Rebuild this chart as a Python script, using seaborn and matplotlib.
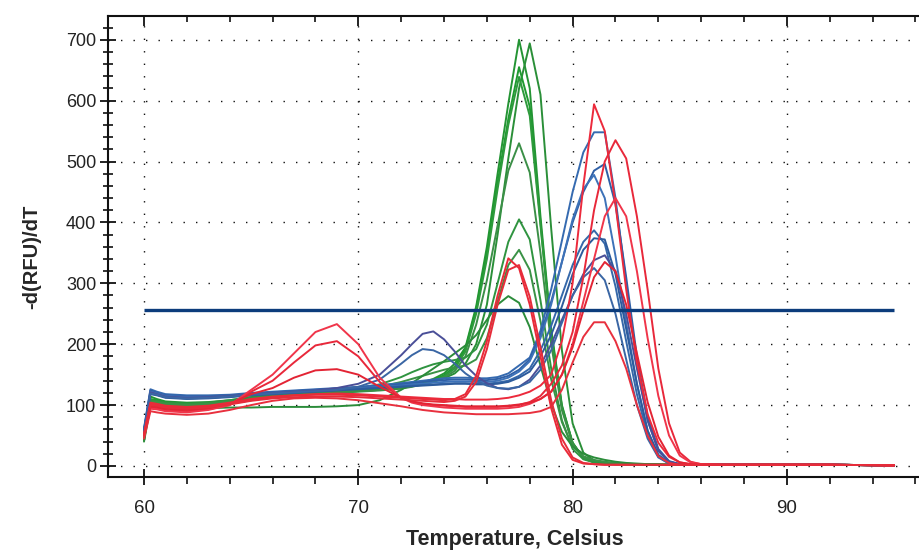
import matplotlib
matplotlib.use("Agg")
import matplotlib.pyplot as plt
from matplotlib.ticker import MultipleLocator
import pandas as pd
import seaborn as sns

# Melt-curve derivative data: shared temperature grid (Celsius)
temps = [60.0, 60.3, 60.6, 61,
         62, 63, 64, 65, 66, 67, 68, 69, 70, 71, 72,
         72.5, 73, 73.5, 74, 74.5, 75, 75.5, 76, 76.5, 77, 77.5, 78, 78.5, 79,
         79.5, 80, 80.5, 81, 81.5, 82, 82.5, 83, 83.5, 84, 84.5, 85, 85.5, 86,
         87, 88, 90, 92, 95]

# Green wells (product melting near 77.5 C)
g1 = [48, 114, 110, 106,
      104, 105, 108, 113, 117, 119, 121, 123, 125, 127, 130,
      133, 137, 143, 152, 168, 195, 262, 360, 480, 595, 700, 620, 410, 225,
      100, 38, 12, 6, 4, 3, 3, 3, 3, 2, 2, 2, 2, 2,
      2, 2, 2, 2, 1]
g2 = [44, 108, 106, 103,
      101, 102, 105, 110, 114, 117, 119, 121, 123, 125, 128,
      131, 134, 138, 144, 152, 168, 200, 265, 380, 505, 620, 694, 610, 390,
      190, 70, 22, 9, 5, 4, 3, 3, 3, 2, 2, 2, 2, 2,
      2, 2, 2, 2, 1]
g3 = [46, 110, 108, 104,
      102, 103, 106, 111, 115, 118, 120, 122, 124, 126, 129,
      132, 136, 141, 149, 163, 192, 258, 350, 465, 570, 655, 590, 400, 220,
      98, 38, 13, 6, 4, 3, 3, 3, 2, 2, 2, 2, 2, 2,
      2, 2, 2, 2, 1]
g4 = [42, 106, 105, 101,
      99, 100, 104, 109, 114, 117, 119, 121, 123, 125, 128,
      131, 135, 140, 147, 160, 188, 250, 340, 455, 560, 639, 575, 395, 215,
      95, 38, 14, 7, 4, 3, 3, 3, 2, 2, 2, 2, 2, 2,
      2, 2, 2, 2, 1]
g5 = [44, 104, 103, 100,
      98, 99, 103, 108, 113, 116, 118, 120, 122, 124, 127,
      130, 134, 139, 145, 156, 180, 232, 305, 395, 485, 530, 482, 350, 200,
      92, 36, 15, 8, 5, 4, 3, 3, 3, 2, 2, 2, 2, 2,
      2, 2, 2, 2, 1]
g6 = [46, 108, 107, 104,
      102, 104, 108, 113, 117, 120, 122, 125, 128, 134, 146,
      154, 161, 167, 171, 174, 178, 192, 232, 300, 368, 405, 372, 272, 160,
      75, 28, 11, 6, 4, 3, 3, 3, 2, 2, 2, 2, 2, 2,
      2, 2, 2, 2, 1]
g7 = [45, 106, 105, 102,
      100, 102, 106, 111, 115, 118, 120, 122, 125, 130, 138,
      143, 148, 153, 158, 162, 165, 175, 210, 270, 330, 355, 322, 238, 142,
      72, 32, 16, 10, 7, 5, 4, 3, 3, 2, 2, 2, 2, 2,
      2, 2, 2, 2, 1]
g8 = [40, 98, 98, 96,
      95, 95, 96, 96, 97, 97, 97, 98, 100, 108, 125,
      136, 148, 160, 172, 185, 198, 215, 240, 265, 279, 268, 228, 165, 102,
      56, 32, 20, 14, 10, 7, 5, 4, 3, 3, 2, 2, 2, 2,
      2, 2, 2, 2, 1]

# Blue wells (product melting near 81 C)
b1 = [62, 126, 122, 118,
      116, 116, 117, 120, 122, 124, 126, 128, 130, 133, 136,
      138, 140, 142, 144, 145, 145, 144, 144, 146, 152, 165, 178, 222, 290,
      370, 450, 515, 548, 548, 440, 300, 170, 75, 25, 7, 3, 2, 2,
      2, 2, 2, 2, 1]
b2 = [60, 124, 120, 116,
      114, 114, 116, 118, 121, 123, 125, 127, 129, 131, 134,
      136, 138, 140, 141, 142, 142, 141, 141, 143, 148, 158, 175, 215, 270,
      335, 400, 450, 485, 496, 430, 310, 180, 82, 28, 8, 3, 2, 2,
      2, 2, 2, 2, 1]
b3 = [58, 122, 119, 115,
      113, 113, 115, 118, 120, 122, 124, 126, 128, 130, 132,
      134, 135, 137, 138, 139, 139, 138, 138, 140, 145, 155, 172, 210, 265,
      335, 405, 455, 478, 440, 345, 235, 135, 58, 18, 5, 2, 2, 2,
      2, 2, 2, 2, 1]
b4 = [56, 120, 117, 113,
      111, 112, 114, 117, 119, 121, 123, 125, 127, 129, 131,
      132, 133, 134, 135, 136, 136, 135, 135, 137, 140, 148, 160, 190, 230,
      280, 330, 368, 387, 365, 295, 205, 118, 50, 15, 4, 2, 2, 2,
      2, 2, 2, 2, 1]
b5 = [55, 118, 116, 112,
      110, 111, 113, 116, 118, 120, 122, 124, 126, 128, 130,
      131, 132, 133, 134, 135, 135, 134, 134, 135, 138, 145, 155, 180, 215,
      262, 315, 355, 374, 372, 315, 225, 135, 58, 18, 5, 2, 2, 2,
      2, 2, 2, 2, 1]
b6 = [57, 121, 118, 114,
      112, 113, 115, 118, 120, 122, 124, 128, 135, 150, 182,
      200, 217, 221, 208, 188, 165, 148, 136, 128, 126, 130, 142, 165, 200,
      240, 280, 315, 338, 346, 320, 250, 160, 75, 25, 7, 3, 2, 2,
      2, 2, 2, 2, 1]
b7 = [56, 119, 117, 113,
      111, 112, 114, 117, 119, 121, 123, 125, 130, 142, 168,
      182, 192, 190, 182, 168, 152, 140, 132, 128, 127, 130, 138, 158, 190,
      235, 280, 310, 325, 305, 250, 175, 100, 45, 14, 4, 2, 2, 2,
      2, 2, 2, 2, 1]

# Red wells (mixed products, early bumps near 69 C)
r1 = [52, 102, 100, 97,
      95, 97, 102, 108, 113, 116, 118, 119, 118, 116, 114,
      113, 112, 111, 110, 110, 109, 109, 109, 110, 112, 116, 122, 132, 150,
      205, 300, 460, 594, 550, 430, 290, 170, 85, 38, 15, 6, 3, 2,
      2, 2, 2, 2, 1]
r2 = [50, 96, 95, 92,
      90, 93, 100, 122, 140, 170, 198, 205, 180, 138, 112,
      106, 102, 100, 99, 98, 97, 97, 97, 97, 98, 100, 105, 115, 135,
      165, 220, 310, 420, 500, 535, 505, 410, 290, 160, 70, 22, 7, 3,
      2, 2, 2, 2, 1]
r3 = [48, 94, 93, 90,
      88, 92, 100, 125, 150, 185, 220, 233, 200, 145, 112,
      104, 100, 98, 96, 95, 94, 94, 94, 94, 95, 97, 102, 110, 122,
      150, 200, 270, 340, 410, 440, 410, 320, 210, 115, 50, 17, 6, 3,
      2, 2, 2, 2, 1]
r4 = [50, 98, 97, 94,
      92, 95, 102, 118, 128, 145, 157, 159, 150, 130, 112,
      106, 103, 101, 100, 99, 98, 98, 98, 98, 99, 101, 104, 110, 122,
      150, 195, 255, 310, 335, 320, 265, 185, 105, 48, 17, 6, 3, 2,
      2, 2, 2, 2, 1]
r5 = [45, 90, 88, 86,
      84, 86, 92, 100, 107, 111, 112, 111, 108, 103, 98,
      95, 92, 90, 88, 87, 86, 85, 85, 85, 85, 86, 87, 90, 97,
      125, 170, 212, 236, 236, 205, 160, 100, 50, 16, 5, 2, 2, 2,
      2, 2, 2, 2, 1]
r6 = [52, 104, 102, 99,
      97, 99, 104, 110, 114, 116, 117, 117, 116, 114, 112,
      111, 110, 109, 108, 110, 118, 148, 205, 280, 341, 325, 265, 180, 95,
      35, 10, 4, 3, 2, 2, 2, 2, 2, 2, 2, 2, 2, 2,
      2, 2, 2, 2, 1]
r7 = [50, 100, 99, 96,
      94, 96, 101, 107, 111, 113, 114, 114, 113, 111, 109,
      108, 107, 106, 105, 107, 114, 138, 192, 265, 322, 330, 278, 195, 108,
      45, 14, 5, 3, 2, 2, 2, 2, 2, 2, 2, 2, 2, 2,
      2, 2, 2, 2, 1]

# Threshold line
threshold_x = [60, 95]
threshold_y = [256, 256]

# Tick labels
x_ticks = [60, 70, 80, 90]
y_ticks = [0, 100, 200, 300, 400, 500, 600, 700]

curves = {
    "g1": (g1, "#249434"), "g2": (g2, "#2a8f38"), "g3": (g3, "#1f9a30"),
    "g4": (g4, "#2e9a3c"), "g5": (g5, "#3b8f47"), "g6": (g6, "#2f9440"),
    "g7": (g7, "#3a9246"), "g8": (g8, "#2b8c3a"),
    "b1": (b1, "#356ab0"), "b2": (b2, "#2f5fa6"), "b3": (b3, "#3d72b8"),
    "b4": (b4, "#3568aa"), "b5": (b5, "#2c5b9c"), "b6": (b6, "#4a4f98"),
    "b7": (b7, "#3a66a4"),
    "r1": (r1, "#ec2a3c"), "r2": (r2, "#e8283a"), "r3": (r3, "#f0354a"),
    "r4": (r4, "#e32434"), "r5": (r5, "#e8303e"), "r6": (r6, "#ea2a38"),
    "r7": (r7, "#e62c3a"),
}

rows = []
for name, (vals, _) in curves.items():
    for t, v in zip(temps, vals):
        rows.append({"temp": t, "value": v, "well": name})
df = pd.DataFrame(rows)
palette = {name: c for name, (_, c) in curves.items()}

sns.set_style("white")
plt.rcParams["font.family"] = ["Liberation Sans", "DejaVu Sans"]
title_family = ["Liberation Sans Narrow", "Liberation Sans", "DejaVu Sans"]

fig = plt.figure(figsize=(9.2, 5.5), dpi=100)
ax = fig.add_axes([108 / 920, 1 - 477 / 550, 1 - 108 / 920, (477 - 16) / 550])

sns.lineplot(data=df, x="temp", y="value", hue="well", palette=palette,
             hue_order=list(curves.keys()), estimator=None, sort=False,
             legend=False, linewidth=1.4, ax=ax, zorder=3)

ax.plot(threshold_x, threshold_y, color="#0c3c7c", linewidth=2.4, zorder=4,
        solid_capstyle="butt")

ax.set_xlim(58.32, 96.21)
ax.set_ylim(-18.1, 739)

ax.set_xticks(x_ticks)
ax.set_yticks(y_ticks)
ax.xaxis.set_minor_locator(MultipleLocator(2))
ax.yaxis.set_minor_locator(MultipleLocator(20))

ax.grid(True, which="major", color="#111111", linestyle=(0, (1, 8)),
        linewidth=1.0)
ax.set_axisbelow(True)

for side in ("left", "bottom", "top"):
    ax.spines[side].set_visible(True)
    ax.spines[side].set_color("#111111")
    ax.spines[side].set_linewidth(1.5)
ax.spines["right"].set_visible(False)

ax.tick_params(axis="x", which="major", direction="inout", length=11,
               width=1.3, bottom=True, top=False, labelsize=13.5, pad=11,
               colors="#111111", labelcolor="#222222")
ax.tick_params(axis="x", which="minor", direction="out", length=5,
               width=1.2, bottom=True, top=False, colors="#111111")
ax.tick_params(axis="y", which="major", direction="inout", length=11,
               width=1.3, left=True, labelsize=13, pad=3,
               colors="#111111", labelcolor="#222222")
ax.tick_params(axis="y", which="minor", direction="inout", length=7,
               width=1.2, left=True, colors="#111111")

top = ax.secondary_xaxis("top")
top.set_xticks(x_ticks)
top.xaxis.set_minor_locator(MultipleLocator(2))
top.tick_params(which="major", direction="in", length=7, width=1.3,
                labeltop=False, colors="#111111")
top.tick_params(which="minor", direction="in", length=4, width=1.2,
                colors="#111111")
top.spines["top"].set_visible(False)

ax.set_xlabel("Temperature, Celsius", fontsize=15.5, fontweight="bold",
              family=title_family, va="center")
ax.set_ylabel("-d(RFU)/dT", fontsize=14.5, fontweight="bold",
              family=title_family, va="center")
ax.xaxis.set_label_coords((515 - 108) / 812, (477 - 540) / 461)
ax.yaxis.set_label_coords((32 - 108) / 812, (477 - 257) / 461)

fig.savefig("out.png", dpi=100, facecolor="white")
